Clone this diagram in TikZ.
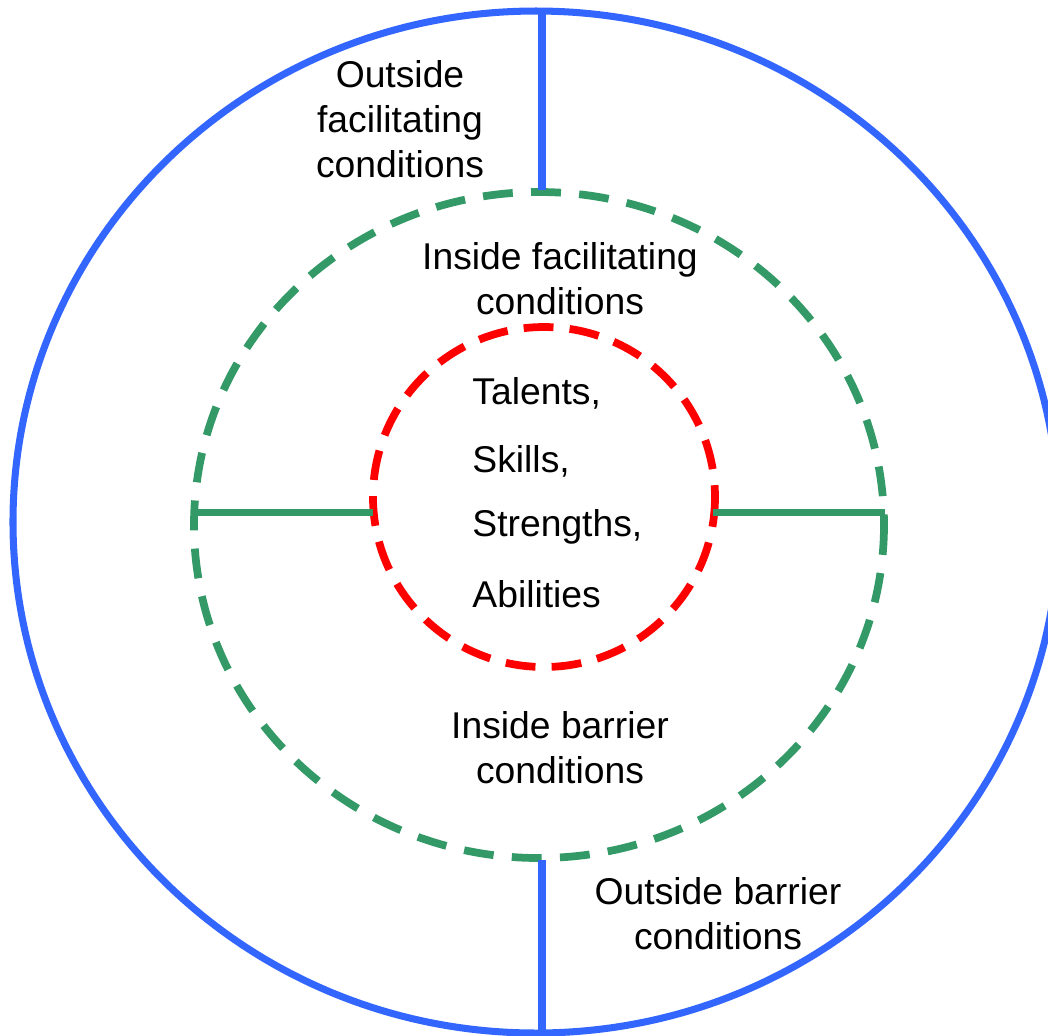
\documentclass[tikz,border=0pt]{standalone}
\usepackage{fontspec}
\setmainfont{Liberation Sans}
\definecolor{cblue}{HTML}{3366FF}
\definecolor{cgreen}{HTML}{339966}
\definecolor{cred}{HTML}{FF0000}
\begin{document}
\begin{tikzpicture}[x=0.01cm,y=-0.01cm,
    outer/.style={line width=2pt, cblue},
    inner/.style={line width=2.2pt, cgreen, dash pattern=on 8.5pt off 5.2pt},
    core/.style={line width=2.2pt, cred, dash pattern=on 8.5pt off 4.6pt},
    lbl/.style={align=center, font=\fontsize{10.6}{12.8}\selectfont},
    item/.style={anchor=west, font=\fontsize{10.6}{12.8}\selectfont}]

    \useasboundingbox (0,0) rectangle (1048,1035);
    \clip (0,0) rectangle (1048,1035);

    % rings
    \draw[outer] (536,522) ellipse (523 and 511);
    \draw[inner] (539,525) ellipse (345 and 333);
    \draw[core]  (544,497) ellipse (171 and 170);

    % split points
    \coordinate (otop) at (542,12);
    \coordinate (gtop) at (542,190);
    \coordinate (gbot) at (542,860);
    \coordinate (obot) at (542,1040);
    \coordinate (gleft) at (195,512);
    \coordinate (rleft) at (373,512);
    \coordinate (rright) at (713,512);
    \coordinate (gright) at (885,512);

    \draw[outer] (otop) -- (gtop);
    \draw[outer] (gbot) -- (obot);
    \draw[line width=2pt, cgreen] (gleft) -- (rleft);
    \draw[line width=2pt, cgreen] (rright) -- (gright);

    % labels
    \node[lbl] (outfac) at (400,119) {Outside\\facilitating\\conditions};
    \node[lbl] (infac) at (560,279) {Inside facilitating\\conditions};
    \node[lbl] (inbar) at (560,748) {Inside barrier\\conditions};
    \node[lbl] (outbar) at (718,914) {Outside barrier\\conditions};

    \node[item] (talents) at (460,393) {Talents,};
    \node[item] (skills) at (460,461) {Skills,};
    \node[item] (strengths) at (460,527) {Strengths,};
    \node[item] (abilities) at (460,594) {Abilities};

\end{tikzpicture}
\end{document}
